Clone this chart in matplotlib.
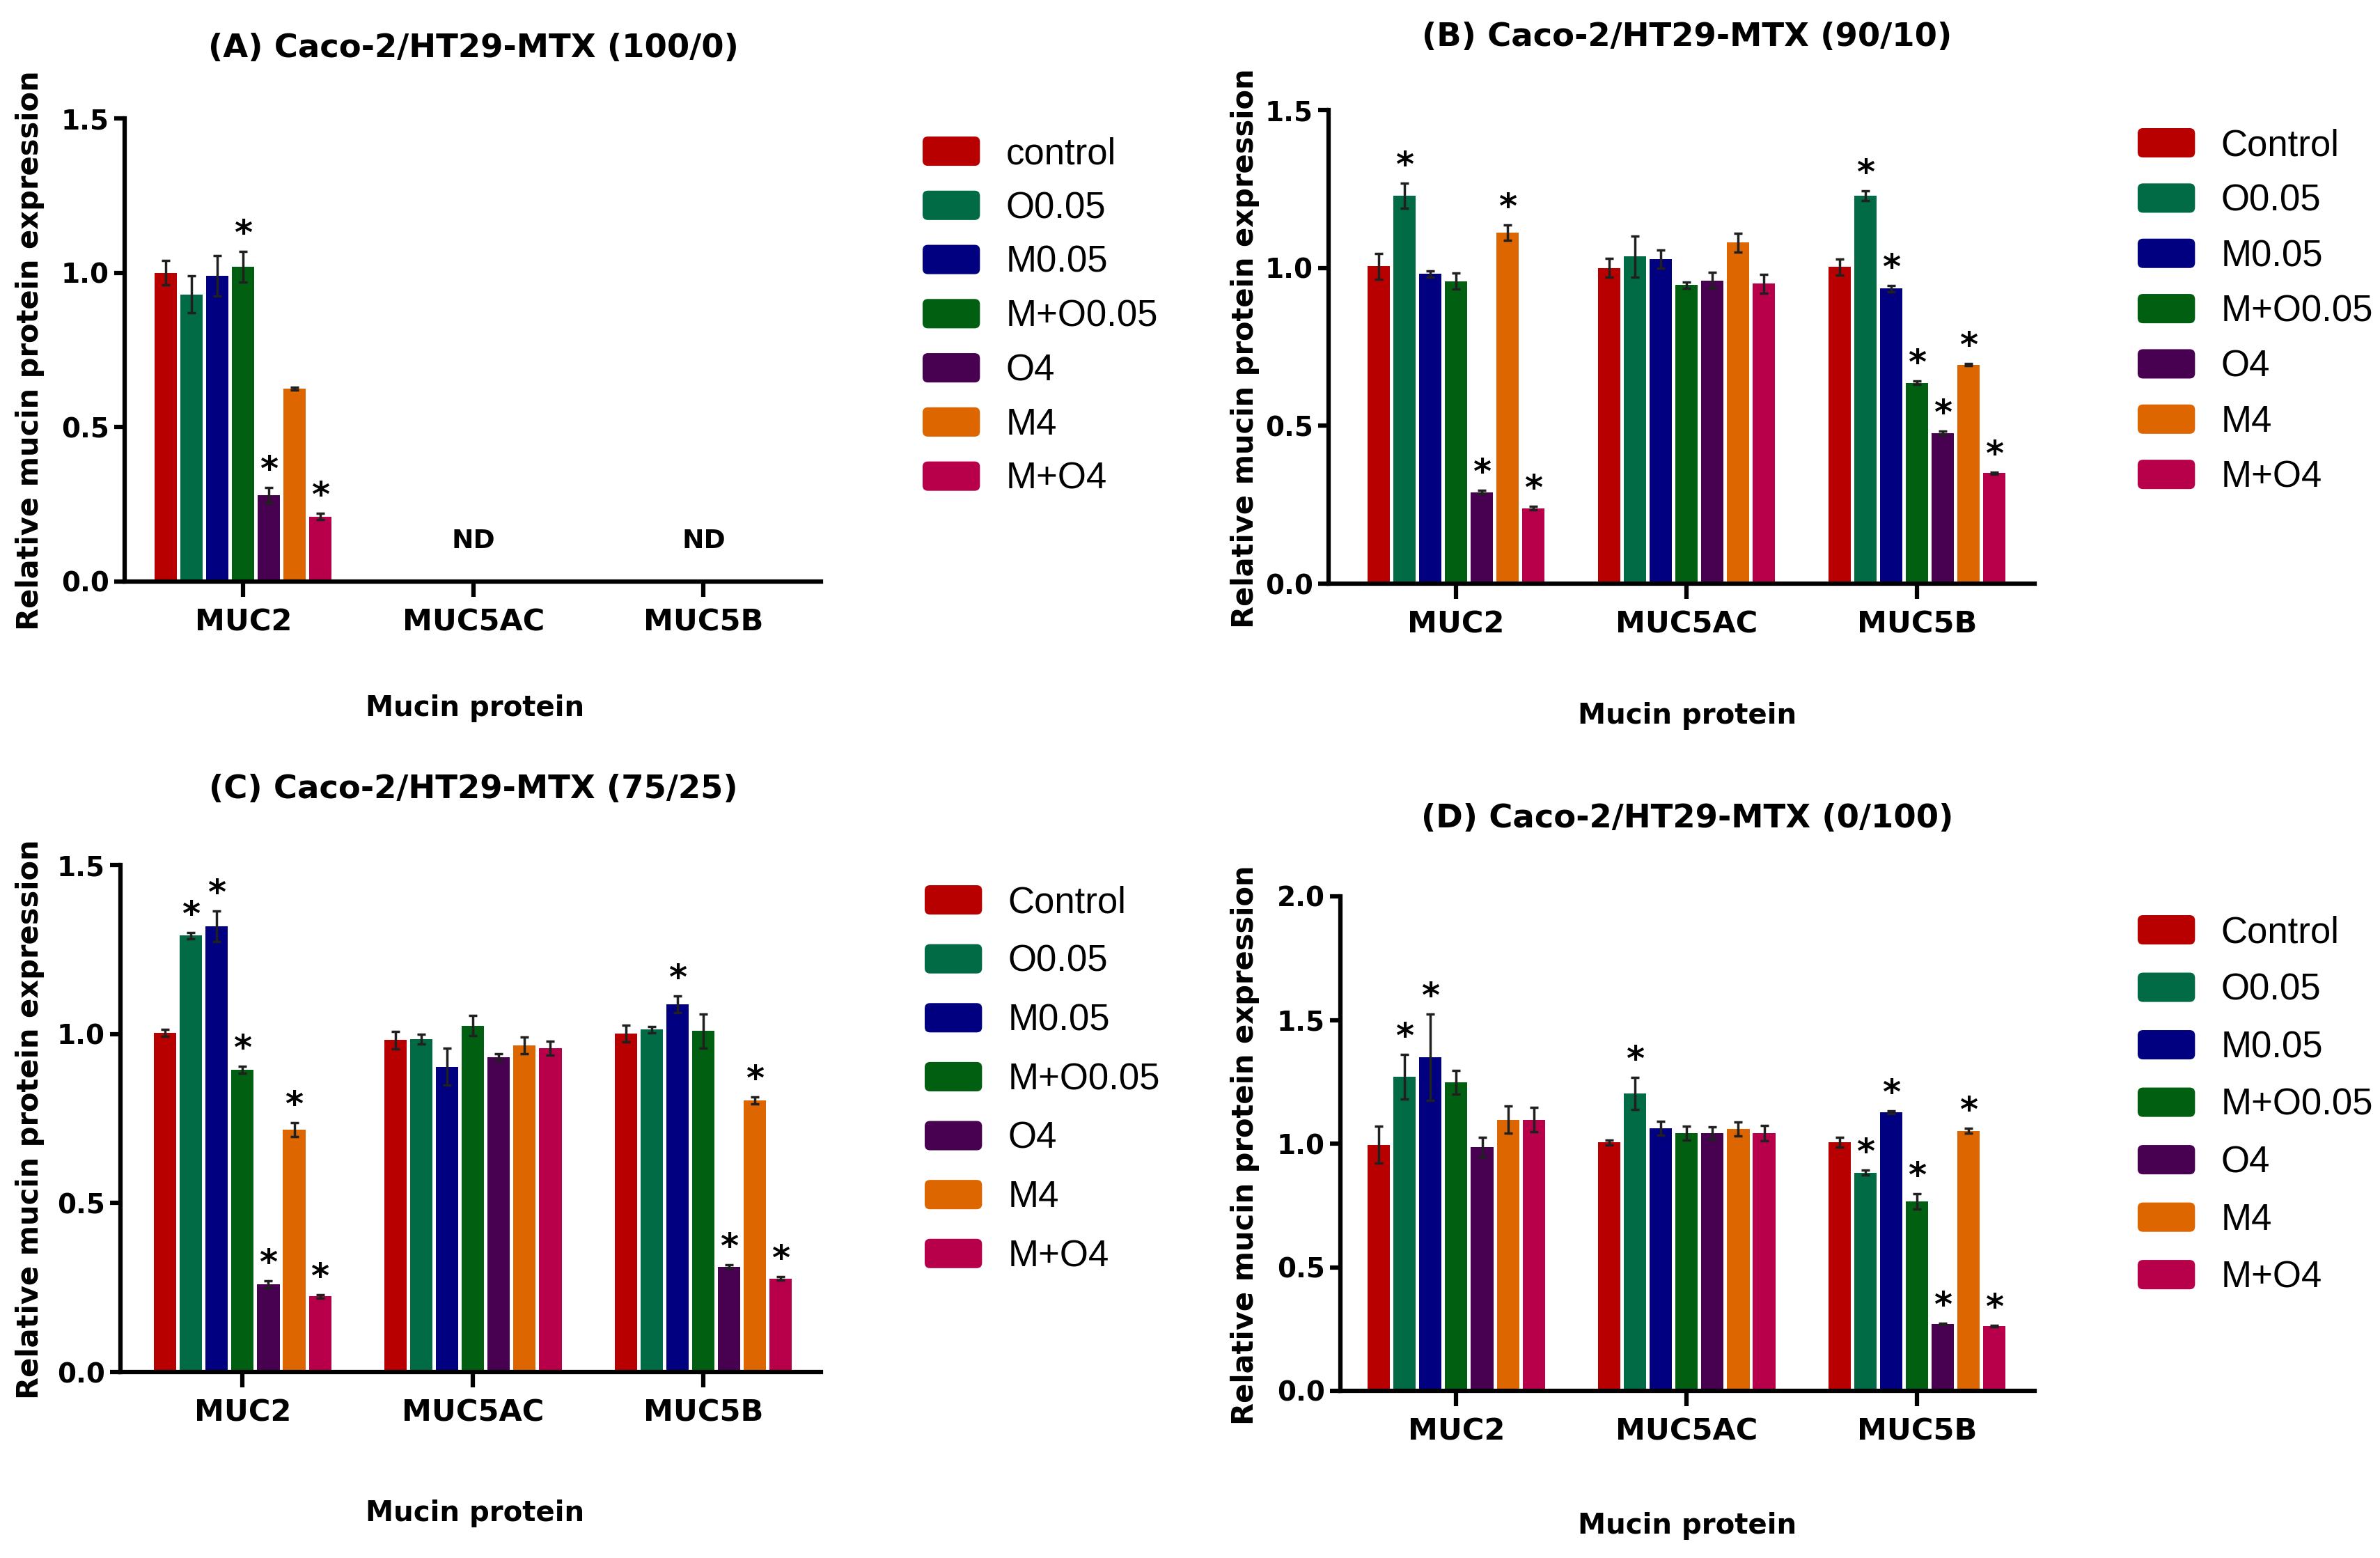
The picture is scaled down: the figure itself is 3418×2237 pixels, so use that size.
import numpy as np
import matplotlib
matplotlib.use('Agg')
import matplotlib.pyplot as plt
from matplotlib.patches import Patch, FancyBboxPatch
from matplotlib.legend_handler import HandlerPatch
from matplotlib.ticker import FormatStrFormatter

W, H = 3418, 2237

groups = ['MUC2', 'MUC5AC', 'MUC5B']
treatments = ['Control', 'O0.05', 'M0.05', 'M+O0.05', 'O4', 'M4', 'M+O4']
colors = ['#b80000', '#006b45', '#000080', '#005f10', '#480050', '#dd6600', '#b8004a']

nan = np.nan

# (A) 100/0 - MUC5AC and MUC5B not detected
a_means = [[1.00, 0.93, 0.99, 1.02, 0.28, 0.625, 0.21],
           [nan] * 7,
           [nan] * 7]
a_errs = [[0.04, 0.06, 0.065, 0.05, 0.025, 0.005, 0.01],
          [nan] * 7,
          [nan] * 7]
a_stars = [[0, 0, 0, 1, 1, 0, 1],
           [0] * 7,
           [0] * 7]

# (B) 90/10
b_means = [[1.005, 1.229, 0.981, 0.958, 0.29, 1.112, 0.239],
           [1.0, 1.036, 1.028, 0.946, 0.96, 1.08, 0.95],
           [1.003, 1.229, 0.935, 0.636, 0.477, 0.693, 0.35]]
b_errs = [[0.04, 0.04, 0.01, 0.025, 0.005, 0.025, 0.005],
          [0.03, 0.065, 0.028, 0.01, 0.025, 0.03, 0.03],
          [0.025, 0.015, 0.01, 0.005, 0.005, 0.003, 0.003]]
b_stars = [[0, 1, 0, 0, 1, 1, 1],
           [0, 0, 0, 0, 0, 0, 0],
           [0, 1, 1, 1, 1, 1, 1]]

# (C) 75/25
c_means = [[1.003, 1.291, 1.318, 0.894, 0.259, 0.717, 0.224],
           [0.982, 0.985, 0.903, 1.025, 0.931, 0.967, 0.958],
           [1.001, 1.013, 1.088, 1.009, 0.312, 0.804, 0.277]]
c_errs = [[0.01, 0.01, 0.045, 0.01, 0.01, 0.02, 0.005],
          [0.025, 0.015, 0.055, 0.03, 0.01, 0.025, 0.02],
          [0.025, 0.01, 0.025, 0.05, 0.005, 0.01, 0.005]]
c_stars = [[0, 1, 1, 1, 1, 1, 1],
           [0, 0, 0, 0, 0, 0, 0],
           [0, 0, 1, 0, 1, 1, 1]]

# (D) 0/100
d_means = [[0.995, 1.271, 1.35, 1.248, 0.985, 1.097, 1.097],
           [1.005, 1.203, 1.062, 1.042, 1.042, 1.058, 1.042],
           [1.005, 0.883, 1.126, 0.766, 0.27, 1.052, 0.261]]
d_errs = [[0.075, 0.09, 0.175, 0.047, 0.04, 0.055, 0.05],
          [0.01, 0.065, 0.027, 0.028, 0.025, 0.028, 0.032],
          [0.02, 0.01, 0.005, 0.03, 0.003, 0.01, 0.003]]
d_stars = [[0, 1, 1, 0, 0, 0, 0],
           [0, 1, 0, 0, 0, 0, 0],
           [0, 1, 1, 1, 1, 1, 1]]

plt.rcParams['font.family'] = 'DejaVu Sans'
plt.rcParams['font.weight'] = 'bold'

fig = plt.figure(figsize=(W / 100, H / 100), dpi=100)

slot = 0.112
bar_w = 0.097


class RoundPatchHandler(HandlerPatch):
    # legend boxes with rounded corners, like the Prism export
    def create_artists(self, legend, orig_handle, xdescent, ydescent,
                       width, height, fontsize, trans):
        p = FancyBboxPatch((-xdescent, -ydescent), width, height,
                           boxstyle='round,pad=0,rounding_size=%f' % (0.18 * height),
                           facecolor=orig_handle.get_facecolor(),
                           edgecolor='none', transform=trans)
        return [p]


def px(x, y):
    return x / W, 1 - y / H


def draw_panel(rect, means, errs, stars, title, ymax, ystep, xleft,
               title_at, xlabel_at, ylabel_at, legend_at, spacing,
               labels=treatments, nd=None):
    l, t, r, b = rect
    ax = fig.add_axes([l / W, 1 - b / H, (r - l) / W, (b - t) / H])
    x = np.arange(len(groups))
    means = np.array(means, dtype=float)
    errs = np.array(errs, dtype=float)
    for i, name in enumerate(labels):
        xi = x + (i - 3) * slot
        ax.bar(xi, means[:, i], bar_w, color=colors[i], label=name, zorder=2)
        ax.errorbar(xi, means[:, i], yerr=errs[:, i], fmt='none',
                    ecolor='#202020', elinewidth=2.5, capsize=4, capthick=2.5, zorder=3)
        for g in range(len(groups)):
            if stars[g][i]:
                ax.annotate('*', (xi[g], means[g, i] + errs[g, i]),
                            xytext=(0, 24), textcoords='offset pixels',
                            ha='center', va='center', fontsize=36, color='black')
    if nd:
        for g in nd:
            ax.text(x[g], 0.13, 'ND', ha='center', va='center', fontsize=27)

    ax.set_xlim(xleft, 2.51)
    ax.set_ylim(0, ymax)
    ax.set_yticks(np.arange(0, ymax + 0.01, ystep))
    ax.yaxis.set_major_formatter(FormatStrFormatter('%.1f'))
    ax.set_xticks(x)
    ax.set_xticklabels(groups)
    for side in ['top', 'right']:
        ax.spines[side].set_visible(False)
    for side in ['left', 'bottom']:
        ax.spines[side].set_linewidth(4.5)
    ax.tick_params(axis='y', length=11, width=4.5, labelsize=28, pad=5)
    ax.tick_params(axis='x', length=16, width=4.5, labelsize=31, pad=11)

    fig.text(*px(*title_at), title, ha='center', va='center', fontsize=33.5)
    fig.text(*px(*xlabel_at), 'Mucin protein', ha='center', va='center', fontsize=29)
    fig.text(*px(*ylabel_at), 'Relative mucin protein expression', rotation=90,
             ha='center', va='center', fontsize=30)

    handles = [Patch(facecolor=c, edgecolor='none') for c in colors]
    ax.legend(handles, labels, loc='upper left',
              bbox_to_anchor=px(*legend_at), bbox_transform=fig.transFigure,
              frameon=False, borderpad=0, borderaxespad=0,
              prop={'family': 'Liberation Sans', 'weight': 'normal', 'size': 38},
              handlelength=1.56, handleheight=0.85, handletextpad=0.7,
              labelspacing=spacing, handler_map={Patch: RoundPatchHandler()})
    return ax


draw_panel((179, 170, 1179, 835), a_means, a_errs, a_stars,
           '(A) Caco-2/HT29-MTX (100/0)', 1.5, 0.5, -0.515,
           (680, 70), (682, 1017), (43, 503), (1325, 196), 0.52,
           labels=['control'] + treatments[1:], nd=[1, 2])
draw_panel((1908, 158, 2922, 838), b_means, b_errs, b_stars,
           '(B) Caco-2/HT29-MTX (90/10)', 1.5, 0.5, -0.553,
           (2423, 53), (2423, 1028), (1788, 500), (3070, 184), 0.55)
draw_panel((173, 1242, 1179, 1970), c_means, c_errs, c_stars,
           '(C) Caco-2/HT29-MTX (75/25)', 1.5, 0.5, -0.53,
           (680, 1133), (682, 2173), (43, 1607), (1328, 1271), 0.65)
draw_panel((1925, 1287, 2922, 1997), d_means, d_errs, d_stars,
           '(D) Caco-2/HT29-MTX (0/100)', 2.0, 0.5, -0.503,
           (2423, 1176), (2423, 2191), (1788, 1644), (3070, 1314), 0.61)

fig.savefig('out.png', dpi=100)
